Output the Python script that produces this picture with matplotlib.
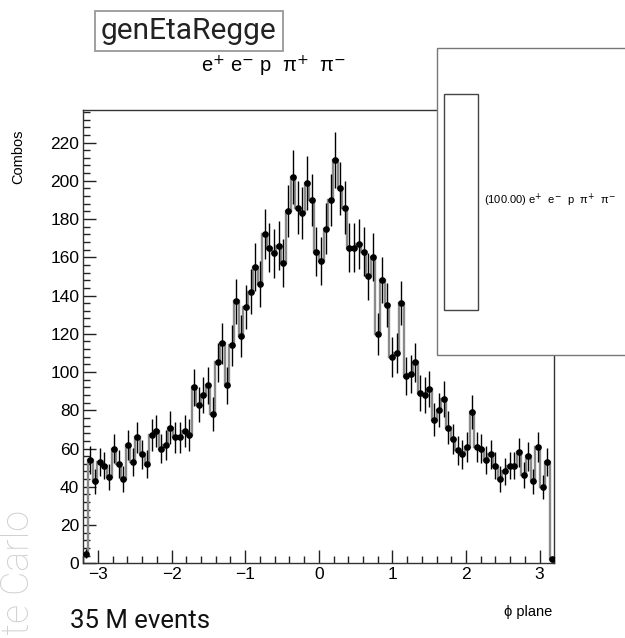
import numpy as np
import matplotlib
matplotlib.use('Agg')
import matplotlib.pyplot as plt
from matplotlib.patches import Rectangle
from matplotlib.ticker import MultipleLocator

# histogram: 100 bins from -3.2 to 3.2 (phi plane)
x_min, x_max, n_bins = -3.2, 3.2, 100
counts = [5, 54, 43, 53, 51, 45, 60, 52, 44, 62,
          53, 66, 57, 52, 67, 69, 60, 62, 71, 66,
          66, 69, 67, 92, 83, 88, 93, 78, 105, 115,
          93, 114, 137, 119, 134, 142, 155, 146, 172, 165,
          162, 166, 157, 184, 202, 186, 183, 199, 190, 163,
          158, 175, 190, 211, 196, 186, 165, 165, 167, 163,
          150, 160, 120, 148, 135, 108, 110, 136, 98, 99,
          105, 89, 88, 91, 75, 80, 86, 71, 65, 59,
          57, 61, 79, 61, 60, 54, 57, 51, 44, 48,
          51, 51, 58, 46, 56, 43, 61, 40, 53, 2]
x_ticks = [-3, -2, -1, 0, 1, 2, 3]
y_ticks = [0, 20, 40, 60, 80, 100, 120, 140, 160, 180, 200, 220]
y_top = 237

counts = np.array(counts, dtype=float)
edges = np.linspace(x_min, x_max, n_bins + 1)
centers = 0.5 * (edges[1:] + edges[:-1])
errors = np.sqrt(counts)

W, H = 625, 638
fig = plt.figure(figsize=(W / 100, H / 100), dpi=100)

# watermark on the left edge (cut by the bottom, like the original)
fig.text(29 / W, 1 - 510 / H, 'Monte Carlo', rotation=90, rotation_mode='anchor',
         ha='right', va='baseline', fontsize=27, color='#d0d0d0',
         family='Roboto', fontweight='light')

ax = fig.add_axes([83.3 / W, 1 - 563.3 / H, (554.3 - 83.3) / W, (563.3 - 110) / H])
ax.stairs(counts, edges, baseline=0, color='#8a8a8a', lw=1.7, zorder=2)
ax.errorbar(centers, counts, yerr=errors, fmt='o', color='black', ms=3.8,
            elinewidth=1.0, capsize=0, zorder=3)

ax.set_xlim(x_min, x_max)
ax.set_ylim(0, y_top)
ax.set_xticks(x_ticks)
ax.set_yticks(y_ticks)
ax.set_xticklabels(['\u22123', '\u22122', '\u22121', '0', '1', '2', '3'])
ax.xaxis.set_minor_locator(MultipleLocator(0.2))
ax.yaxis.set_minor_locator(MultipleLocator(4))
ax.tick_params(which='both', direction='in', top=False, right=False, color='#222222')
ax.tick_params(which='major', length=9.5, width=1.0, labelsize=12.5, pad=3)
ax.tick_params(which='minor', length=5, width=1.0)
for lab in ax.get_xticklabels() + ax.get_yticklabels():
    lab.set_family('Liberation Sans')
for sp in ax.spines.values():
    sp.set_color('#333333')
    sp.set_linewidth(1.0)

fig.text(18 / W, 1 - 129 / H, 'Combos', rotation=90, ha='center', va='top',
         fontsize=10.5, family='Liberation Sans')
fig.text(552 / W, 1 - 612 / H, '\u03d5 plane', ha='right', va='center',
         fontsize=10.5, family=['Liberation Sans', 'DejaVu Sans'])

# title boxes
fig.text(189 / W, 1 - 31 / H, 'genEtaRegge', ha='center', va='center', fontsize=21.5,
         family='Roboto', color='#222222',
         bbox=dict(boxstyle='square,pad=0.2', fc='white', ec='#999999', lw=1.3))
fig.text(274 / W, 1 - 66 / H, 'e$^{+}$ e$^{-}$ p  \u03c0$^{+}$  \u03c0$^{-}$', ha='center',
         va='center', fontsize=14.5, family=['Liberation Sans', 'DejaVu Sans'],
         math_fontfamily='dejavusans')

# legend box (cut by the right edge)
fig.patches.append(Rectangle((437 / W, 1 - 355 / H), 300 / W, (355 - 48) / H,
                             transform=fig.transFigure, fc='white', ec='#777777',
                             lw=1.0, zorder=5))
fig.patches.append(Rectangle((444 / W, 1 - 310 / H), 34 / W, (310 - 94) / H,
                             transform=fig.transFigure, fc='white', ec='#444444',
                             lw=1.0, zorder=6))
fig.text(484 / W, 1 - 200 / H, '(100.00) e$^{+}$  e$^{-}$  p  \u03c0$^{+}$  \u03c0$^{-}$',
         ha='left', va='center', fontsize=8, zorder=7,
         family=['Liberation Sans', 'DejaVu Sans'], math_fontfamily='dejavusans')

fig.text(70 / W, 1 - 621 / H, '35 M events', ha='left', va='center', fontsize=18.5,
         family='Roboto', color='#111111')

plt.savefig('out.png', dpi=100)
